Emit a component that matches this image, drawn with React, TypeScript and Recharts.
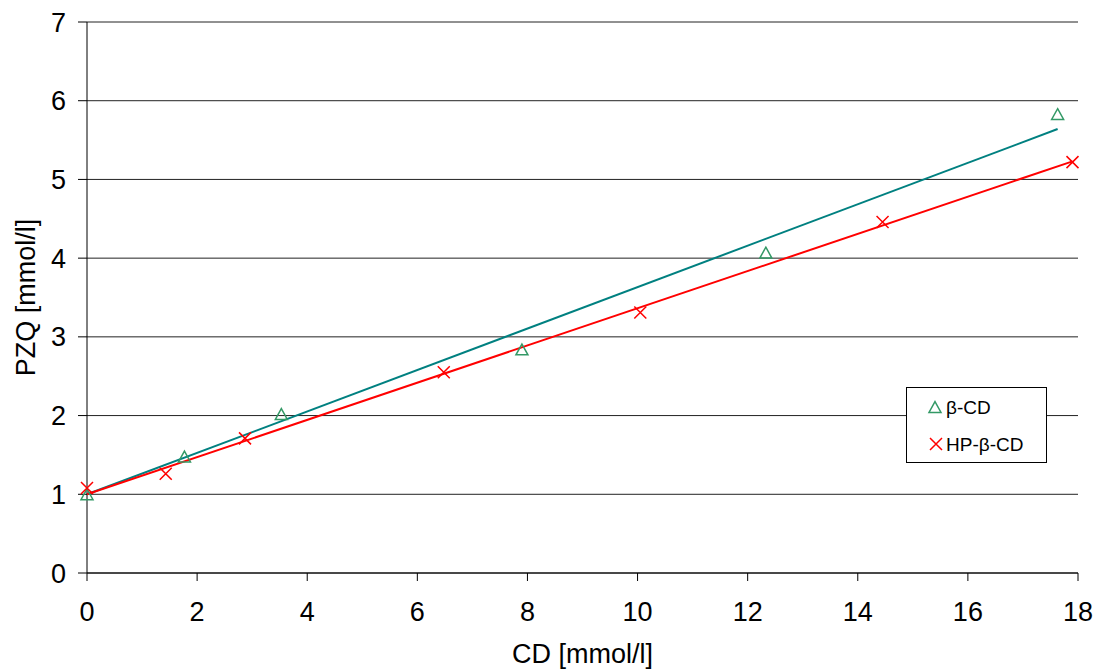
import React from 'react'
import {
  ScatterChart,
  Scatter,
  XAxis,
  YAxis,
  CartesianGrid,
  Legend,
} from 'recharts'

const betaX = [0, 1.77, 3.53, 7.9, 12.33, 17.63]
const betaY = [1.0, 1.48, 2.02, 2.84, 4.07, 5.83]
const hpX = [0, 1.43, 2.87, 6.48, 10.05, 14.45, 17.9]
const hpY = [1.08, 1.26, 1.71, 2.55, 3.31, 4.46, 5.22]

// linear fits (end points)
const betaFitX = [0, 17.63]
const betaFitY = [1.0, 5.64]
const hpFitX = [0, 17.9]
const hpFitY = [1.0, 5.23]

const xTicks = [0, 2, 4, 6, 8, 10, 12, 14, 16, 18]
const yTicks = [0, 1, 2, 3, 4, 5, 6, 7]

const toPoints = (xs: number[], ys: number[]) =>
  xs.map((x, i) => ({ x, y: ys[i] }))

const FONT = '"Liberation Sans", Arial, sans-serif'
const GREEN = '#339966'
const TEAL = '#008080'
const RED = '#ff0000'

const Triangle = ({ cx, cy, size = 12 }: any) => {
  const h = size * 0.9
  return (
    <path
      d={`M${cx},${cy - h / 2} L${cx + size / 2},${cy + h / 2} L${cx - size / 2},${cy + h / 2} Z`}
      fill="none"
      stroke={GREEN}
      strokeWidth={1.5}
    />
  )
}

const Cross = ({ cx, cy, size = 12 }: any) => {
  const s = size / 2
  return (
    <path
      d={`M${cx - s},${cy - s} L${cx + s},${cy + s} M${cx - s},${cy + s} L${cx + s},${cy - s}`}
      stroke={RED}
      strokeWidth={1.5}
      fill="none"
    />
  )
}

const LegendBox = () => (
  <svg width={141} height={76} style={{ display: 'block' }}>
    <rect x={0.5} y={0.5} width={140} height={75} fill="#fff" stroke="#000" />
    <Triangle cx={29} cy={20} size={12} />
    <text x={40} y={20} dominantBaseline="central" fontSize={19} fontFamily={FONT} fill="#000">
      β-CD
    </text>
    <Cross cx={30} cy={57} size={12} />
    <text x={40} y={57} dominantBaseline="central" fontSize={19} fontFamily={FONT} fill="#000">
      HP-β-CD
    </text>
  </svg>
)

export default function App() {
  return (
    <div style={{ position: 'absolute', left: 0, top: 0, background: '#fff' }}>
      <ScatterChart
        width={1096}
        height={669}
        margin={{ top: 22, right: 18, left: 0, bottom: 0 }}
      >
        <CartesianGrid vertical={false} stroke="#222" />
        <XAxis
          type="number"
          dataKey="x"
          domain={[0, 18]}
          ticks={xTicks}
          interval={0}
          height={96}
          tickSize={8}
          tickMargin={21}
          axisLine={{ stroke: '#000' }}
          tickLine={{ stroke: '#000' }}
          tick={{ fill: '#000', fontSize: 27, fontFamily: FONT }}
          label={({ viewBox }: any) => {
            const cx = viewBox.x + viewBox.width / 2
            return (
              <text x={cx} y={663} textAnchor="middle" fontSize={27} fontFamily={FONT} fill="#000">
                CD [mmol/l]
              </text>
            )
          }}
        />
        <YAxis
          type="number"
          dataKey="y"
          domain={[0, 7]}
          ticks={yTicks}
          interval={0}
          width={87}
          tickSize={9}
          tickMargin={12}
          axisLine={{ stroke: '#000' }}
          tickLine={{ stroke: '#000' }}
          tick={{ fill: '#000', fontSize: 27, fontFamily: FONT }}
          label={({ viewBox }: any) => {
            const cx = 26
            const cy = viewBox.y + viewBox.height / 2
            return (
              <text
                x={cx}
                y={cy}
                transform={`rotate(-90 ${cx} ${cy})`}
                textAnchor="middle"
                dominantBaseline="central"
                fontSize={27}
                fontFamily={FONT}
                fill="#000"
              >
                PZQ [mmol/l]
              </text>
            )
          }}
        />
        <Scatter
          data={toPoints(betaFitX, betaFitY)}
          line={{ stroke: TEAL, strokeWidth: 2 }}
          shape={() => <g />}
          legendType="none"
          isAnimationActive={false}
        />
        <Scatter
          data={toPoints(hpFitX, hpFitY)}
          line={{ stroke: RED, strokeWidth: 2 }}
          shape={() => <g />}
          legendType="none"
          isAnimationActive={false}
        />
        <Scatter
          name="β-CD"
          data={toPoints(betaX, betaY)}
          shape={(p: any) => <Triangle cx={p.cx} cy={p.cy} />}
          isAnimationActive={false}
        />
        <Scatter
          name="HP-β-CD"
          data={toPoints(hpX, hpY)}
          shape={(p: any) => <Cross cx={p.cx} cy={p.cy} />}
          isAnimationActive={false}
        />
        <Legend
          layout="horizontal"
          verticalAlign="middle"
          align="center"
          content={() => <LegendBox />}
          wrapperStyle={{ left: 906, top: 387, width: 141, height: 76, bottom: 'auto' }}
        />
      </ScatterChart>
    </div>
  )
}
